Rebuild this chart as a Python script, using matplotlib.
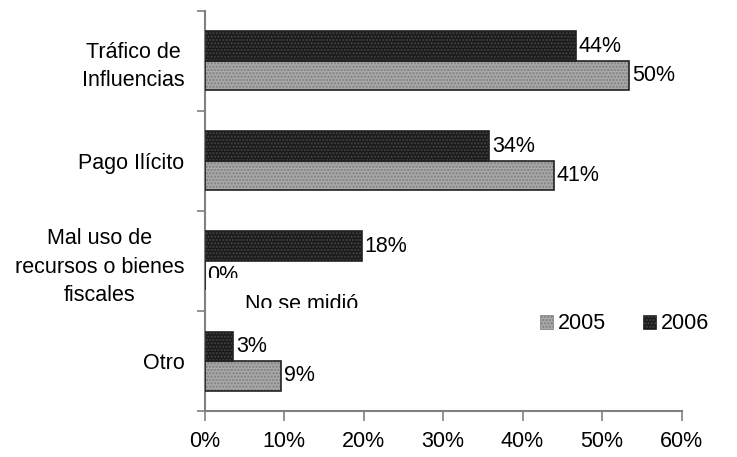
#!/usr/bin/env python3
# plot.py

import numpy as np
import matplotlib
matplotlib.use("Agg")
import matplotlib.pyplot as plt
from matplotlib.patches import Patch
from matplotlib.transforms import Bbox, TransformedBbox
from matplotlib.ticker import MultipleLocator, FixedLocator

plt.rcParams["font.family"] = ["Liberation Sans", "DejaVu Sans"]
plt.rcParams["hatch.linewidth"] = 0.5

categories = [
    "Tráfico de\nInfluencias",
    "Pago Ilícito",
    "Mal uso de\nrecursos o bienes\nfiscales",
    "Otro",
]
# bar lengths as drawn against the x axis (%)
bars_2006 = [46.7, 35.8, 19.8, 3.6]
bars_2005 = [53.4, 43.9, 0.0, 9.6]
# labels printed next to the bars
labels_2006 = ["44%", "34%", "18%", "3%"]
labels_2005 = ["50%", "41%", "0%", "9%"]
x_ticks = [0, 10, 20, 30, 40, 50, 60]

FS = 15.5
BAR_H = 0.295


def draw_bars(ax, y, widths, face, hatch_col):
    # fill with a fine dot texture, then the outline on top
    ax.barh(y, widths, height=BAR_H, color=face, edgecolor=hatch_col,
            hatch="ooooo", linewidth=0, zorder=2)
    ax.barh(y, widths, height=BAR_H, color="none", edgecolor="#222222",
            linewidth=1.2, zorder=3)


def clip_below(ax, text, y_max):
    # hide the part of a text that lies below y_max (data units)
    box = TransformedBbox(Bbox([[-5, -1], [65, y_max]]), ax.transData)
    text.set_clip_on(True)
    text.set_clip_box(box)


def main():
    fig = plt.figure(figsize=(7.37, 4.57), dpi=100)
    ax = fig.add_axes([0.2775, 0.1005, 0.6473, 0.876])

    y = np.arange(len(categories))
    y06 = y - BAR_H / 2
    y05 = y + BAR_H / 2
    draw_bars(ax, y06, bars_2006, "#1a1a1a", "#383838")
    draw_bars(ax, y05, bars_2005, "#a9a9a9", "#8a8a8a")

    ax.set_xlim(0, 60)
    ax.set_ylim(3.5, -0.5)

    for i in range(len(categories)):
        ax.text(bars_2006[i] + 0.35, y06[i], labels_2006[i], fontsize=FS,
                va="center", ha="left", zorder=4)
        t = ax.text(bars_2005[i] + 0.35, y05[i], labels_2005[i], fontsize=FS,
                    va="center", ha="left", zorder=4)
        if bars_2005[i] == 0:
            clip_below(ax, t, 2.167)

    t = ax.text(5.1, 2.44, "No se midió", fontsize=FS, va="center",
                ha="left", zorder=4)
    clip_below(ax, t, 2.47)

    # axes styling
    for side in ["top", "right"]:
        ax.spines[side].set_visible(False)
    ax.spines["left"].set_color("#808080")
    ax.spines["bottom"].set_color("#808080")
    ax.spines["left"].set_linewidth(1.5)
    ax.spines["bottom"].set_linewidth(1.5)

    ax.xaxis.set_major_locator(FixedLocator(x_ticks))
    ax.set_xticklabels([f"{v}%" for v in x_ticks], fontsize=FS)
    ax.tick_params(axis="x", length=7, width=1.2, color="#808080",
                   direction="out", pad=7)

    ax.yaxis.set_major_locator(FixedLocator(y))
    ax.set_yticklabels(categories, fontsize=FS)
    for lab in ax.get_yticklabels():
        lab.set_multialignment("center")
        lab.set_linespacing(1.45)
    ax.yaxis.set_minor_locator(MultipleLocator(1, offset=0.5))
    ax.tick_params(axis="y", which="major", length=0, pad=14.5)
    ax.tick_params(axis="y", which="minor", length=6, width=1.2,
                   color="#808080", direction="out")

    handles = [
        Patch(facecolor="#a9a9a9", edgecolor="#8a8a8a", hatch="ooooo",
              linewidth=0.6, label="2005"),
        Patch(facecolor="#1a1a1a", edgecolor="#383838", hatch="ooooo",
              linewidth=0.6, label="2006"),
    ]
    ax.legend(handles=handles, ncol=2, frameon=False, fontsize=FS,
              loc="center left", bbox_to_anchor=(0.703, 0.218),
              handlelength=0.6, handleheight=0.6, handletextpad=0.25,
              columnspacing=1.7, borderpad=0, borderaxespad=0)

    fig.savefig("out.png", dpi=100)


if __name__ == "__main__":
    main()
